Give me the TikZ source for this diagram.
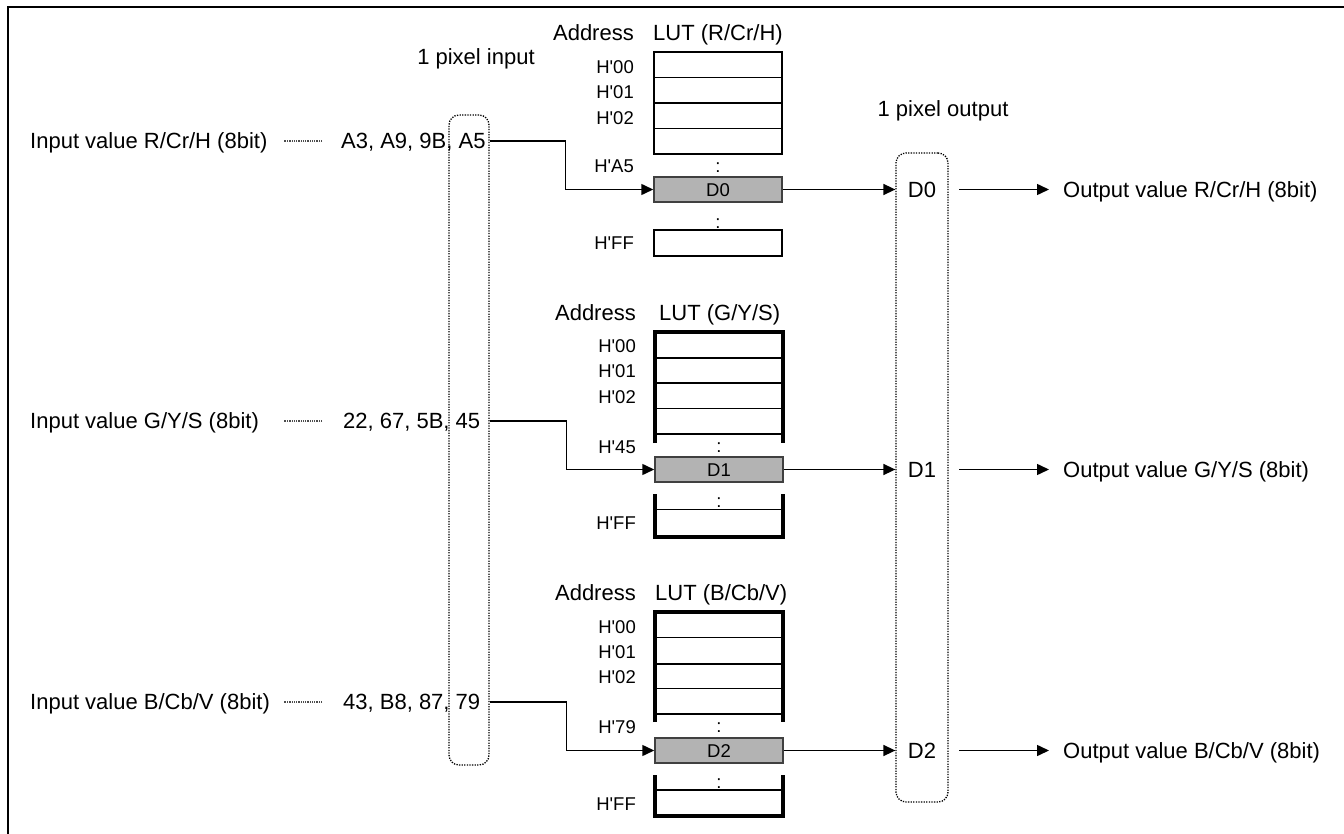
\documentclass[tikz,border=0pt]{standalone}
\usepackage{fontspec}
\setmainfont{Liberation Sans}
\usetikzlibrary{arrows.meta}
\definecolor{lutgray}{RGB}{179,179,179}
\begin{document}
\begin{tikzpicture}[x=1pt,y=-1pt,
  every node/.style={inner sep=0pt},
  lbl/.style={font=\fontsize{22}{26}\selectfont, text height=15.7pt, text depth=0pt},
  sml/.style={font=\fontsize{18.5}{22}\selectfont, text height=13.2pt, text depth=0pt},
  thinline/.style={line width=1.5pt},
  thickline/.style={line width=3.6pt},
  arr/.style={line width=1.5pt, -{Triangle[length=12pt,width=11pt]}},
  dotbox/.style={draw, line width=1.3pt, dash pattern=on 1.3pt off 1.3pt, rounded corners=10pt},
  dotcon/.style={draw=black!70, line width=1.2pt, dash pattern=on 1pt off 0.8pt},
  dbox/.style={draw=black!75, line width=1.5pt, fill=lutgray, minimum width=128pt, minimum height=25pt, sml}
]
\useasboundingbox (0,0) rectangle (1344,834);
% frame
\draw[line width=2.5pt] (8,840) -- (8,7) -- (1350,7);

% pixel boxes
\node[dotbox, minimum width=40pt, minimum height=650pt] (inbox) at (469,440) {};
\node[dotbox, minimum width=52pt, minimum height=649pt] (obox) at (922,477.5) {};
\node[lbl] (pin) at (476,57) {1 pixel input};
\node[lbl] (pout) at (943,109) {1 pixel output};

% ===== group R =====
\node[lbl, anchor=west] (in0) at (30,141) {Input value R/Cr/H (8bit)};
\node[lbl, anchor=west] (v0) at (341,141) {A3, A9, 9B, A5};
\draw[dotcon] ([xshift=-19pt]v0.west) -- ++(-38,0);
\node[lbl, anchor=east] (ad0) at (634,33) {Address};
\node[lbl, anchor=west] (lt0) at (653,33) {LUT (R/Cr/H)};
\node[sml, anchor=east] (r0a) at (634,67) {H\textquotesingle 00};
\node[sml, anchor=east] (r0b) at (634,92) {H\textquotesingle 01};
\node[sml, anchor=east] (r0c) at (634,117.5) {H\textquotesingle 02};
\node[sml, anchor=east] (r0d) at (634,166) {H\textquotesingle A5};
\node[sml, anchor=east] (r0e) at (634,243) {H\textquotesingle FF};
\draw[thinline] (654,52) rectangle (782,154);
\draw[thinline] (654,77.5) -- (782,77.5) (654,103) -- (782,103) (654,128.5) -- (782,128.5);
\node[sml] (c0a) at (718,166) {:};
\node[dbox] (d0) at (718,189.5) {D0};
\node[sml] (c0b) at (718,222) {:};
\draw[thinline] (654,230) rectangle (782,256);
\draw[arr] (v0.east -| inbox.east) -| ([xshift=-88pt]d0.west) -- (d0.west);
\node[lbl] (o0) at (922,189.5) {D0};
\draw[arr] (d0.east) -- (d0.east -| obox.west);
\node[lbl, anchor=west] (ol0) at (1063,189.5) {Output value R/Cr/H (8bit)};
\draw[arr] ([xshift=23pt]o0.east) -- ([xshift=-14pt]ol0.west);

% ===== group G =====
\begin{scope}[yshift=-280pt]
\node[lbl, anchor=west] (in1) at (30,141) {Input value G/Y/S (8bit)};
\node[lbl, anchor=west] (v1) at (343,141) {22, 67, 5B, 45};
\draw[dotcon] ([xshift=-21pt]v1.west) -- ++(-38,0);
\node[lbl, anchor=east] (ad1) at (636,33) {Address};
\node[lbl, anchor=west] (lt1) at (659,33) {LUT (G/Y/S)};
\node[sml, anchor=east] (r1a) at (636,66) {H\textquotesingle 00};
\node[sml, anchor=east] (r1b) at (636,91) {H\textquotesingle 01};
\node[sml, anchor=east] (r1c) at (636,117) {H\textquotesingle 02};
\node[sml, anchor=east] (r1d) at (636,167) {H\textquotesingle 45};
\node[sml, anchor=east] (r1e) at (636,243) {H\textquotesingle FF};
\draw[thickline] (655,163) -- (655,52) -- (783,52) -- (783,163);
\draw[thinline] (655,78) -- (783,78) (655,103) -- (783,103) (655,128.5) -- (783,128.5) (655,154) -- (783,154);
\node[sml] (c1a) at (719,166) {:};
\node[dbox] (d1) at (719,189.5) {D1};
\node[sml] (c1b) at (719,221) {:};
\draw[thickline] (655,214) -- (655,257) -- (783,257) -- (783,214);
\draw[thinline] (655,229.5) -- (783,229.5);
\draw[arr] (v1.east -| inbox.east) -| ([xshift=-88pt]d1.west) -- (d1.west);
\node[lbl] (o1) at (922,189.5) {D1};
\draw[arr] (d1.east) -- (d1.east -| obox.west);
\node[lbl, anchor=west] (ol1) at (1063,189.5) {Output value G/Y/S (8bit)};
\draw[arr] ([xshift=23pt]o1.east) -- ([xshift=-14pt]ol1.west);
\end{scope}

% ===== group B =====
\begin{scope}[yshift=-561pt]
\node[lbl, anchor=west] (in2) at (30,141) {Input value B/Cb/V (8bit)};
\node[lbl, anchor=west] (v2) at (343,141) {43, B8, 87, 79};
\draw[dotcon] ([xshift=-21pt]v2.west) -- ++(-38,0);
\node[lbl, anchor=east] (ad2) at (636,32) {Address};
\node[lbl, anchor=west] (lt2) at (655,32) {LUT (B/Cb/V)};
\node[sml, anchor=east] (r2a) at (636,66) {H\textquotesingle 00};
\node[sml, anchor=east] (r2b) at (636,91) {H\textquotesingle 01};
\node[sml, anchor=east] (r2c) at (636,116) {H\textquotesingle 02};
\node[sml, anchor=east] (r2d) at (636,166) {H\textquotesingle 79};
\node[sml, anchor=east] (r2e) at (636,243) {H\textquotesingle FF};
\draw[thickline] (655,161) -- (655,51) -- (783,51) -- (783,161);
\draw[thinline] (655,76.5) -- (783,76.5) (655,103) -- (783,103) (655,127.5) -- (783,127.5) (655,153) -- (783,153);
\node[sml] (c2a) at (719,165) {:};
\node[dbox] (d2) at (719,189.5) {D2};
\node[sml] (c2b) at (719,221) {:};
\draw[thickline] (655,214) -- (655,255) -- (783,255) -- (783,214);
\draw[thinline] (655,229) -- (783,229);
\draw[arr] (v2.east -| inbox.east) -| ([xshift=-88pt]d2.west) -- (d2.west);
\node[lbl] (o2) at (922,189.5) {D2};
\draw[arr] (d2.east) -- (d2.east -| obox.west);
\node[lbl, anchor=west] (ol2) at (1063,189.5) {Output value B/Cb/V (8bit)};
\draw[arr] ([xshift=23pt]o2.east) -- ([xshift=-14pt]ol2.west);
\end{scope}
\end{tikzpicture}
\end{document}
